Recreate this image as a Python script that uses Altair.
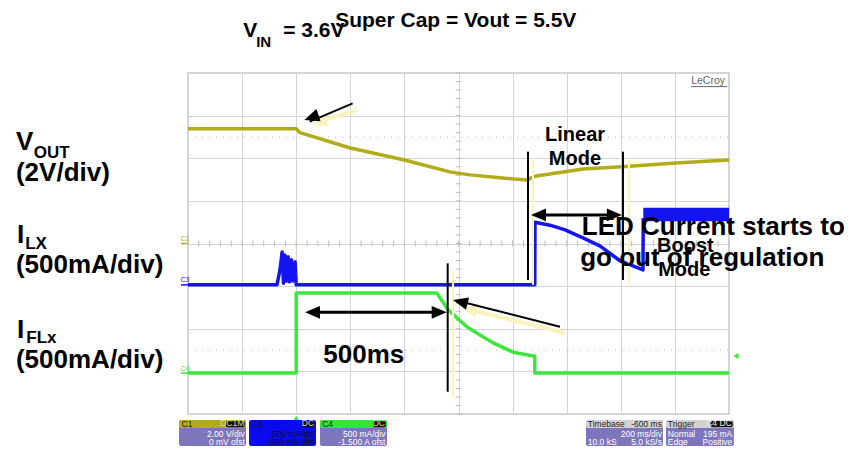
import altair as alt
import numpy as np
import pandas as pd

FONT = "Liberation Sans"

# ---------------- traces (x: time in divisions of 200 ms, y: screen divisions) ----------------
vout_x = [0, 2.0, 2.07, 3.0, 4.0, 4.84, 5.21, 5.77, 6.27, 6.41, 7.3, 8.02, 9.02, 10.0]
vout_y = [6.69, 6.69, 6.6, 6.24, 5.96, 5.68, 5.61, 5.54, 5.49, 5.58, 5.75, 5.8, 5.89, 5.96]

ilx_x = [0, 1.645, 1.70, 1.74, 1.765, 1.79, 1.82, 1.85, 1.875, 1.91, 1.94, 1.98, 2.0,
         6.41, 6.414, 6.69, 6.97, 7.30, 7.62, 7.99, 8.41, 8.415]
ilx_y = [3.03, 3.03, 3.38, 3.80, 3.07, 3.73, 3.12, 3.69, 3.10, 3.62, 3.12, 3.57, 3.03,
         3.03, 4.50, 4.43, 4.32, 4.13, 3.94, 3.59, 3.38, 4.6]
boost_x = [8.415, 10.0]
boost_lo = [4.52, 4.52]
boost_hi = [4.84, 4.84]

ifl_x = [0, 2.0, 2.0, 4.6, 4.81, 5.16, 5.45, 5.64, 6.01, 6.38, 6.41, 6.41, 10.0]
ifl_y = [0.96, 0.96, 2.84, 2.84, 2.44, 2.04, 1.81, 1.67, 1.45, 1.36, 1.36, 0.96, 0.96]

YELLOW = "#b2ac1a"
BLUE = "#1414f0"
GREEN = "#3ee63e"
PURPLE = "#7d76bd"
PALE = "#faf3bd"

XS = alt.Scale(domain=[0, 10], nice=False, zero=False)
YS = alt.Scale(domain=[0, 8], nice=False, zero=False)
AX = alt.Axis(values=list(range(11)), grid=True, labels=False, ticks=False, domain=False,
              title=None, gridColor="#d4d4d4", gridWidth=1)
AY = alt.Axis(values=list(range(9)), grid=True, labels=False, ticks=False, domain=False,
              title=None, gridColor="#d4d4d4", gridWidth=1)


def X(f="x"):
    return alt.X(f"{f}:Q", scale=XS, axis=AX, title=None)


def Y(f="y"):
    return alt.Y(f"{f}:Q", scale=YS, axis=AY, title=None)


def trace(xs, ys, color, w):
    df = pd.DataFrame({"x": xs, "y": ys, "i": range(len(xs))})
    return alt.Chart(df).mark_line(color=color, strokeWidth=w, strokeJoin="round").encode(
        x=X(), y=Y(), order=alt.Order("i:Q"))


# ---------------- graticule ----------------
tick_x = np.round(np.arange(0, 10.001, 0.2), 2)
tick_y = np.round(np.arange(0, 8.001, 0.2), 2)
ticks_h = alt.Chart(pd.DataFrame({"x": tick_x, "y": 3.93, "y2": 4.07})).mark_rule(
    color="#bdbdbd", strokeWidth=1).encode(x=X(), y=Y(), y2="y2:Q")
ticks_v = alt.Chart(pd.DataFrame({"y": tick_y, "x": 4.95, "x2": 5.05})).mark_rule(
    color="#bdbdbd", strokeWidth=1).encode(x=X(), x2="x2:Q", y=Y())
dotted = alt.Chart(pd.DataFrame({"y": [6.5, 1.5], "x": 0, "x2": 10})).mark_rule(
    color="#bdbdbd", strokeWidth=1, strokeDash=[1, 6]).encode(x=X(), x2="x2:Q", y=Y())

# ---------------- traces ----------------
vout = trace(vout_x, vout_y, YELLOW, 3.5)
ilx = trace(ilx_x, ilx_y, BLUE, 3.5)
boost = alt.Chart(pd.DataFrame({"x": [boost_x[0]], "x2": [boost_x[1]], "y": [boost_lo[0]],
                                "y2": [boost_hi[0]]})).mark_rect(color=BLUE).encode(
    x=X(), x2="x2:Q", y=Y(), y2="y2:Q")
ifl = trace(ifl_x, ifl_y, GREEN, 3.5)

# channel markers
ch_lines = alt.Chart(pd.DataFrame({"x": -0.13, "x2": 0.0, "y": [4.0, 3.03, 0.96],
                                   "c": [YELLOW, BLUE, GREEN]})).mark_rule(strokeWidth=1.5).encode(
    x=X(), x2="x2:Q", y=Y(), color=alt.Color("c:N", scale=None))
ch_text = alt.Chart(pd.DataFrame({"x": -0.14, "y": [4.06, 3.09, 1.02], "t": ["C1", "C3", "C4"],
                                  "c": [YELLOW, BLUE, GREEN]})).mark_text(
    font=FONT, fontSize=7, align="left", baseline="alphabetic").encode(
    x=X(), y=Y(), text="t:N", color=alt.Color("c:N", scale=None))
markers = alt.Chart(pd.DataFrame({"x": [2.0, 10.13], "y": [-0.1, 1.36],
                                  "s": ["triangle-up", "triangle-left"]})).mark_point(
    filled=True, size=35, color=GREEN, opacity=1).encode(
    x=X(), y=Y(), shape=alt.Shape("s:N", scale=None))

# ---------------- annotations ----------------
shadow_lines = pd.DataFrame({
    "x": [3.124, 6.969, 6.377, 8.15, 4.898],
    "y": [7.132, 1.90, 6.03, 6.03, 3.378],
    "x2": [2.40, 5.15, 6.377, 8.15, 4.898],
    "y2": [6.85, 2.46, 3.03, 3.03, 0.399],
    "w": [4, 4, 2, 2, 2],
})
shadow_rule = alt.Chart(shadow_lines).mark_rule(color=PALE).encode(
    x=X(), y=Y(), x2="x2:Q", y2="y2:Q", strokeWidth=alt.StrokeWidth("w:Q", scale=None))

black_lines = pd.DataFrame({
    "x": [3.044, 6.876, 2.25, 6.43, 6.285, 8.04, 4.80],
    "y": [7.289, 2.048, 2.386, 4.669, 6.154, 6.154, 3.535],
    "x2": [2.25, 5.0, 4.70, 7.93, 6.285, 8.04, 4.80],
    "y2": [6.86, 2.65, 2.386, 4.669, 3.144, 3.144, 0.523],
    "w": [2, 2, 3, 3, 2, 2, 2],
})
black_rule = alt.Chart(black_lines).mark_rule(color="black").encode(
    x=X(), y=Y(), x2="x2:Q", y2="y2:Q", strokeWidth=alt.StrokeWidth("w:Q", scale=None))

HEAD = "M0,0 L0.85,2 L-0.85,2 Z"
shadow_heads = alt.Chart(pd.DataFrame({"x": [2.292, 5.065], "y": [6.78, 2.487],
                                       "a": [251, 284]})).mark_point(
    shape=HEAD, filled=True, size=225, color=PALE, opacity=1).encode(
    x=X(), y=Y(), angle=alt.Angle("a:Q", scale=None))
heads = alt.Chart(pd.DataFrame({"x": [2.150, 4.898, 2.163, 4.782, 6.34, 8.02],
                                "y": [6.897, 2.674, 2.386, 2.386, 4.669, 4.669],
                                "a": [251, 284, 270, 90, 270, 90]})).mark_point(
    shape=HEAD, filled=True, size=225, color="black", opacity=1).encode(
    x=X(), y=Y(), angle=alt.Angle("a:Q", scale=None))

labels = pd.DataFrame([
    ("V", -3.18, 6.19, 26),
    ("OUT", -2.85, 6.01, 17),
    ("(2V/div)", -3.18, 5.47, 26),
    ("I", -3.16, 4.01, 26),
    ("LX", -3.01, 3.87, 17),
    ("(500mA/div)", -3.18, 3.31, 26),
    ("I", -3.16, 1.78, 26),
    ("FLx", -2.99, 1.67, 17),
    ("(500mA/div)", -3.18, 1.08, 26),
    ("V", 1.02, 8.84, 21),
    ("IN", 1.26, 8.61, 15),
    ("= 3.6V", 1.76, 8.84, 21),
    ("Super Cap = Vout = 5.5V", 2.72, 9.08, 21),
    ("Linear", 6.6, 6.40, 20),
    ("Mode", 6.67, 5.84, 20),
    ("Boost", 8.67, 3.80, 20),
    ("Mode", 8.69, 3.24, 20),
    ("LED Current starts to", 7.28, 4.20, 26),
    ("go out of regulation", 7.25, 3.47, 26),
    ("500ms", 2.50, 1.20, 26),
], columns=["t", "x", "y", "fs"])
label_layer = alt.Chart(labels).mark_text(
    font=FONT, fontWeight="bold", align="left", baseline="alphabetic", color="black").encode(
    x=X(), y=Y(), text="t:N", size=alt.Size("fs:Q", scale=None))

lecroy = alt.Chart(pd.DataFrame({"x": [9.30], "y": [7.74], "t": ["LeCroy"]})).mark_text(
    font=FONT, fontSize=10.5, align="left", baseline="alphabetic", color="#666666").encode(
    x=X(), y=Y(), text="t:N")
lecroy_ul = alt.Chart(pd.DataFrame({"x": [9.30], "x2": [9.97], "y": [7.68]})).mark_rule(
    color="#666666", strokeWidth=1).encode(x=X(), x2="x2:Q", y=Y())

# ---------------- bottom info boxes ----------------
boxes = pd.DataFrame([
    (-0.166, 1.072, -0.141, -0.751, PURPLE),
    (-0.166, 1.072, -0.141, -0.328, YELLOW),
    (0.70, 1.05, -0.165, -0.31, "#111111"),
    (1.128, 2.366, -0.141, -0.751, "#0a0af0"),
    (2.10, 2.345, -0.165, -0.31, "#111111"),
    (2.44, 3.678, -0.141, -0.751, PURPLE),
    (2.44, 3.678, -0.141, -0.328, "#33e633"),
    (3.42, 3.657, -0.165, -0.31, "#111111"),
    (7.357, 8.78, -0.141, -0.751, PURPLE),
    (7.357, 8.78, -0.141, -0.328, "#d2d2d2"),
    (8.835, 10.09, -0.141, -0.751, PURPLE),
    (8.835, 10.09, -0.141, -0.328, "#d2d2d2"),
    (9.66, 10.07, -0.165, -0.31, "#111111"),
], columns=["x", "x2", "y", "y2", "c"])
box_layer = alt.Chart(boxes).mark_rect(cornerRadius=2).encode(
    x=X(), x2="x2:Q", y=Y(), y2="y2:Q", color=alt.Color("c:N", scale=None))

box_left = pd.DataFrame([
    ("C1", -0.12, -0.305, "#222222"),
    ("C3", 1.17, -0.305, "#111111"),
    ("C4", 2.48, -0.305, "#222222"),
    ("Timebase", 7.39, -0.305, "#222222"),
    ("Trigger", 8.87, -0.305, "#222222"),
    ("10.0 kS", 7.39, -0.727, "white"),
    ("Normal", 8.87, -0.540, "white"),
    ("Edge", 8.87, -0.727, "white"),
], columns=["t", "x", "y", "c"])
box_right = pd.DataFrame([
    ("DC1M", 1.04, -0.29, "#d8d8a0"),
    ("2.00 V/div", 1.05, -0.540, "white"),
    ("0 mV ofst", 1.05, -0.727, "white"),
    ("DC", 2.33, -0.29, "#dddddd"),
    ("500 mA/div", 2.34, -0.540, "#111111"),
    ("-500 mA ofst", 2.34, -0.727, "#111111"),
    ("DC", 3.64, -0.29, "#aaf0aa"),
    ("500 mA/div", 3.65, -0.540, "white"),
    ("-1.500 A ofst", 3.65, -0.727, "white"),
    ("-600 ms", 8.76, -0.305, "#222222"),
    ("200 ms/div", 8.76, -0.540, "white"),
    ("5.0 kS/s", 8.76, -0.727, "white"),
    ("C4 DC", 10.05, -0.29, "#eeeeee"),
    ("195 mA", 10.06, -0.540, "white"),
    ("Positive", 10.06, -0.727, "white"),
], columns=["t", "x", "y", "c"])
box_text_l = alt.Chart(box_left).mark_text(
    font=FONT, fontSize=8.5, align="left", baseline="alphabetic").encode(
    x=X(), y=Y(), text="t:N", color=alt.Color("c:N", scale=None))
box_text_r = alt.Chart(box_right).mark_text(
    font=FONT, fontSize=8.5, align="right", baseline="alphabetic").encode(
    x=X(), y=Y(), text="t:N", color=alt.Color("c:N", scale=None))

chart = alt.layer(
    dotted, ticks_h, ticks_v,
    vout, ilx, boost, ifl,
    ch_lines, ch_text, markers,
    shadow_rule, shadow_heads, black_rule, heads,
    label_layer, lecroy, lecroy_ul,
    box_layer, box_text_l, box_text_r,
).properties(
    width=541, height=341,
    autosize=alt.AutoSizeParams(type="none"),
    padding={"left": 180, "top": 65, "right": 127, "bottom": 32},
    background="white",
).configure_view(stroke="#c6c6c6", strokeWidth=1.5)

chart.save("out.html", embed_options={"renderer": "svg", "actions": False})
